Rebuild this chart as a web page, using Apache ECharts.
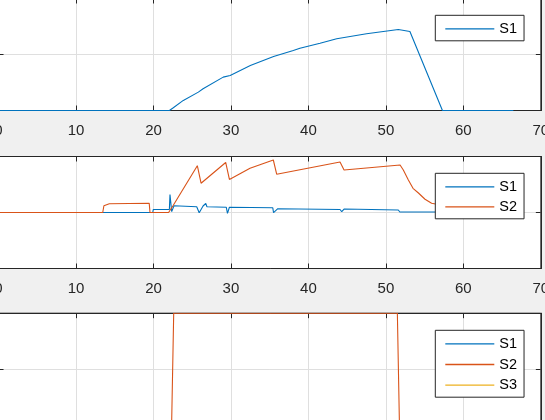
<!DOCTYPE html>
<html>
<head>
<meta charset="utf-8">
<script src="https://cdn.jsdelivr.net/npm/echarts@6/dist/echarts.min.js"></script>
<style>
html,body{margin:0;padding:0;background:#f0f0f0;}
#c{width:545px;height:420px;}
</style>
</head>
<body>
<div id="c"></div>
<script>
// ---- data ----
const xMin = 0, xMax = 70, xStep = 10;

// subplot 1
const p1_S1 = [[0,0],[22.05,0],[22.56,2.4],[23.85,9],[25.79,16.4],[26.4,19.4],[29.0,29.8],[29.9,31.3],[32.5,40.2],[35.5,48.2],[38.05,53.6],[38.9,55.6],[41.5,60],[43.65,64],[47.5,68.5],[51.6,72.3],[53.1,70.5],[57.3,0],[66.45,0]];

// subplot 2
const p2_S1 = [[0,0],[19.9,0],[19.98,5.4],[22.05,5.4],[22.13,32.1],[22.35,1.5],[22.65,12.0],[25.58,10.2],[25.9,-0.4],[26.4,11.6],[26.75,16.1],[26.9,10.2],[29.4,9.3],[29.55,-1.5],[29.8,9.3],[30.0,11.6],[35.4,8.4],[35.5,-0.4],[36.05,6.8],[44.08,5.4],[44.3,1.4],[44.6,6.2],[51.6,4.5],[51.8,0.9],[56.1,0.9],[66.45,0.5]];
const p2_S2 = [[0,0],[13.45,0],[13.6,12],[14.3,15.5],[19.45,16.4],[19.55,0],[21.95,0],[22.5,11.6],[25.66,83.6],[26.14,52.3],[29.32,89.3],[29.8,59],[32.46,78.9],[35.47,93.75],[35.9,68.4],[44.08,90.2],[44.6,75.9],[51.83,84.8],[52.25,75.9],[52.9,58],[53.5,43.2],[54.2,34.8],[55.05,23.7],[55.9,16.4],[56.4,15.2],[57.5,5],[66.45,0]];

// subplot 3
const p3_S1 = [[0,0],[66.45,0]];
const p3_S2 = [[0,0],[22.34,0],[22.61,1],[51.48,1],[51.75,0],[66.45,0]];
const p3_S3 = [[0,0],[66.45,0]];

const yRanges = [[0,100,50],[-100,100,100],[0,1,0.5]];
const legendNames = [['S1'],['S1','S2'],['S1','S2','S3']];

const C1 = '#0072BD', C2 = '#D95319', C3 = '#EDB120';
const AX = '#262626', GRID = '#dfdfdf';
const FONT = '"Liberation Sans", Arial, sans-serif';

// ---- layout ----
const gridTops = [-1.5, 156.5, 313.2];
const gridH = 112;
const legendTops = [15.3, 173.3, 330.3];

const grids = [], xAxes = [], yAxes = [], legends = [];
for (let i = 0; i < 3; i++) {
  grids.push({left: -1.46, width: 542.3, top: gridTops[i], height: gridH,
    outerBoundsMode: 'none', containLabel: false,
    show: true, backgroundColor: '#fff', borderColor: AX, borderWidth: 1});
  xAxes.push({gridIndex: i, type: 'value', min: xMin, max: xMax, interval: xStep, position: 'bottom',
    axisLine: {show: true, onZero: false, lineStyle: {color: AX, width: 1}},
    axisTick: {show: true, inside: true, length: 5, lineStyle: {color: AX}},
    axisLabel: {show: true, margin: 13, color: AX, fontSize: 15, fontFamily: FONT, hideOverlap: false},
    splitLine: {show: true, lineStyle: {color: GRID, width: 1}}});
  xAxes.push({gridIndex: i, type: 'value', min: xMin, max: xMax, interval: xStep, position: 'top',
    axisLine: {show: true, onZero: false, lineStyle: {color: AX, width: 1}},
    axisTick: {show: true, inside: true, length: 5, lineStyle: {color: AX}},
    axisLabel: {show: false}, splitLine: {show: false}});
  const r = yRanges[i];
  yAxes.push({gridIndex: i, type: 'value', min: r[0], max: r[1], interval: r[2], position: 'left',
    axisLine: {show: true, onZero: false, lineStyle: {color: AX, width: 1}},
    axisTick: {show: true, inside: true, length: 5, lineStyle: {color: AX}},
    axisLabel: {show: false},
    splitLine: {show: true, lineStyle: {color: GRID, width: 1}}});
  yAxes.push({gridIndex: i, type: 'value', min: r[0], max: r[1], interval: r[2], position: 'right',
    axisLine: {show: true, onZero: false, lineStyle: {color: AX, width: 1}},
    axisTick: {show: true, inside: true, length: 5, lineStyle: {color: AX}},
    axisLabel: {show: false}, splitLine: {show: false}});
  legends.push({data: legendNames[i], orient: 'vertical', left: 435.3, top: legendTops[i],
    backgroundColor: '#fff', borderColor: AX, borderWidth: 1, borderRadius: 0,
    padding: [3.5, 7, 2, 10], itemGap: i === 2 ? 0.7 : 0,
    icon: 'rect', itemWidth: 49, itemHeight: 1.3, selectedMode: false,
    textStyle: {fontSize: 14.5, lineHeight: 20, color: '#000', fontFamily: FONT, padding: [0,0,0,0]}});
}

function line(name, data, g, color) {
  return {name: name, type: 'line', data: data, xAxisIndex: 2*g, yAxisIndex: 2*g,
    showSymbol: false, symbol: 'none', color: color,
    lineStyle: {color: color, width: 1.1}, emphasis: {disabled: true}, animation: false};
}

const series = [
  line('S1', p1_S1, 0, C1),
  line('S1', p2_S1, 1, C1),
  line('S2', p2_S2, 1, C2),
  line('S1', p3_S1, 2, C1),
  line('S2', p3_S2, 2, C2),
  line('S3', p3_S3, 2, C3)
];

const chart = echarts.init(document.getElementById('c'), null, {renderer: 'canvas'});
chart.setOption({
  backgroundColor: '#f0f0f0',
  animation: false,
  grid: grids, xAxis: xAxes, yAxis: yAxes, legend: legends, series: series
});
</script>
</body>
</html>
